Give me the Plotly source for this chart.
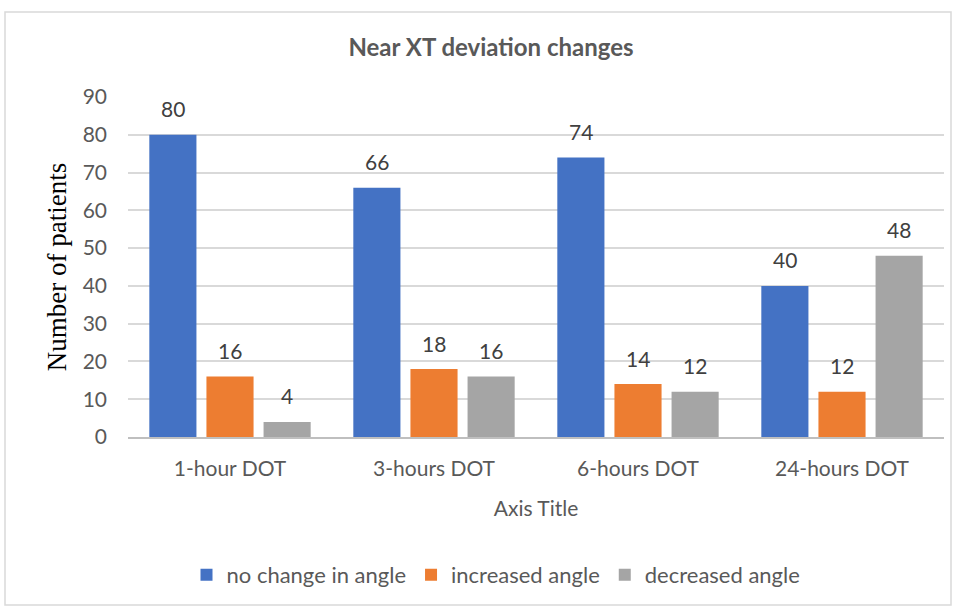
import plotly.graph_objects as go

categories = ["1-hour DOT", "3-hours DOT", "6-hours DOT", "24-hours DOT"]
series_names = ["no change in angle", "increased angle", "decreased angle"]
no_change = [80, 66, 74, 40]
increased = [16, 18, 14, 12]
decreased = [4, 16, 12, 48]
y_ticks = [0, 10, 20, 30, 40, 50, 60, 70, 80, 90]

colors = ["#4472C4", "#ED7D31", "#A5A5A5"]
series = [no_change, increased, decreased]

W, H = 957, 609
L, R, T, B = 128, 13, 97, 172
plot_w = W - L - R
plot_h = H - T - B
cat_px = plot_w / len(categories)
bargap = 0.16
slot_px = cat_px * (1 - bargap) / 3

TXT = "#595959"
FONT = "Lato, 'Open Sans', sans-serif"

fig = go.Figure()
annotations = []
for i, (name, vals, col) in enumerate(zip(series_names, series, colors)):
    fig.add_trace(go.Bar(
        name=name, x=categories, y=vals,
        marker=dict(color=col, line=dict(width=0)),
    ))
    for c, v in zip(categories, vals):
        annotations.append(dict(
            x=c, y=v, xref="x", yref="y", text=str(v), showarrow=False,
            xshift=(i - 1) * slot_px, yshift=26, yanchor="middle",
            font=dict(family=FONT, size=21, color="#404040"),
        ))

fig.update_layout(
    width=W, height=H,
    margin=dict(l=L, r=R, t=T, b=B, pad=0),
    paper_bgcolor="white", plot_bgcolor="white",
    barmode="group", bargap=bargap, bargroupgap=0.175,
    title=dict(text="<b>Near XT deviation changes</b>", x=(491 - L) / plot_w, xref="paper", xanchor="center",
               y=1 - 48 / H, yanchor="middle",
               font=dict(family=FONT, size=24, color=TXT)),
    font=dict(family=FONT, size=21, color=TXT),
    xaxis=dict(
        showgrid=False, showline=True, linecolor="#BFBFBF", linewidth=1.5,
        ticks="", tickfont=dict(family=FONT, size=21, color=TXT),
        ticklabelstandoff=12,
        title=dict(text="Axis Title", font=dict(family=FONT, size=21, color=TXT), standoff=22),
    ),
    yaxis=dict(
        range=[0, 90], tickvals=y_ticks, showgrid=True, gridcolor="#D9D9D9", gridwidth=1.5,
        zeroline=False, showline=False, ticks="",
        tickfont=dict(family=FONT, size=21, color=TXT), ticklabelstandoff=20,
        title=dict(text="Number of patients",
                   font=dict(family="'Liberation Serif', 'Times New Roman', serif", size=27, color="black"),
                   standoff=8),
    ),
    legend=dict(orientation="h", x=(496 - L) / plot_w, xanchor="center", y=(437 - 575) / plot_h, yanchor="middle",
                font=dict(family=FONT, size=22, color=TXT), itemwidth=30, traceorder="normal"),
    annotations=annotations,
    shapes=[dict(type="rect", xref="paper", yref="paper",
                 x0=(5 - L) / plot_w, x1=(951 - L) / plot_w,
                 y0=(437 - 605) / plot_h, y1=(437 - 12) / plot_h,
                 line=dict(color="#D9D9D9", width=1.5), fillcolor="rgba(0,0,0,0)", layer="below")],
)

fig.write_html("out.html", config={"displayModeBar": False},
               post_script="document.body.style.margin='0';")
